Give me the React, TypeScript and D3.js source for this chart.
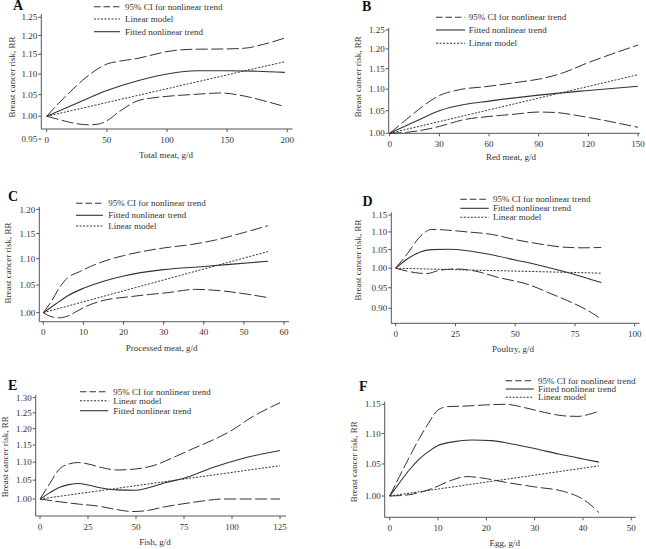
import React from 'react';
import * as d3 from 'd3';

type Pt = [number, number];

// ---- Panel A: Total meat ----
const totalMeatUpper: Pt[] = [[0, 1.0], [10, 1.03], [20, 1.058], [30, 1.085], [40, 1.108], [50, 1.125], [60, 1.132], [75, 1.139], [90, 1.15], [100, 1.157], [120, 1.163], [150, 1.164], [165, 1.166], [180, 1.176], [198, 1.193]];
const totalMeatFit: Pt[] = [[0, 1.0], [25, 1.03], [50, 1.06], [75, 1.083], [100, 1.1], [125, 1.108], [150, 1.108], [175, 1.107], [198, 1.104]];
const totalMeatLower: Pt[] = [[0, 1.0], [10, 0.993], [20, 0.986], [35, 0.981], [42, 0.982], [50, 0.99], [60, 1.01], [75, 1.035], [90, 1.043], [100, 1.046], [125, 1.051], [145, 1.054], [160, 1.049], [180, 1.036], [198, 1.022]];
const totalMeatLinear: Pt[] = [[0, 1.0], [198, 1.131]];

// ---- Panel B: Red meat ----
const redMeatUpper: Pt[] = [[0, 1.0], [10, 1.03], [20, 1.06], [30, 1.085], [40, 1.097], [60, 1.107], [80, 1.118], [90, 1.124], [105, 1.14], [120, 1.165], [135, 1.188], [150, 1.21]];
const redMeatFit: Pt[] = [[0, 1.0], [15, 1.025], [30, 1.05], [45, 1.064], [60, 1.072], [90, 1.086], [120, 1.097], [150, 1.107]];
const redMeatLower: Pt[] = [[0, 1.0], [10, 1.002], [20, 1.007], [30, 1.015], [45, 1.03], [60, 1.037], [75, 1.042], [90, 1.047], [100, 1.046], [115, 1.038], [130, 1.028], [150, 1.013]];
const redMeatLinear: Pt[] = [[0, 1.0], [150, 1.135]];

// ---- Panel C: Processed meat ----
const processedUpper: Pt[] = [[0, 1.0], [2, 1.02], [4, 1.045], [6, 1.063], [9, 1.075], [14, 1.092], [20, 1.106], [30, 1.121], [37, 1.128], [43, 1.137], [50, 1.152], [56, 1.166]];
const processedFit: Pt[] = [[0, 1.0], [3, 1.015], [6, 1.03], [10, 1.044], [15, 1.057], [20, 1.067], [30, 1.079], [40, 1.085], [48, 1.09], [56, 1.095]];
const processedLower: Pt[] = [[0, 1.0], [2, 0.993], [4, 0.991], [6, 0.994], [8, 1.001], [10, 1.009], [14, 1.02], [22, 1.029], [31, 1.036], [38, 1.042], [45, 1.039], [51, 1.033], [56, 1.027]];
const processedLinear: Pt[] = [[0, 1.0], [56, 1.114]];

// ---- Panel D: Poultry ----
const poultryUpper: Pt[] = [[0, 1.0], [5, 1.04], [10, 1.085], [15, 1.107], [20, 1.106], [30, 1.1], [40, 1.093], [50, 1.078], [60, 1.066], [70, 1.057], [78, 1.055], [86, 1.056]];
const poultryFit: Pt[] = [[0, 1.0], [5, 1.025], [10, 1.043], [15, 1.05], [22, 1.051], [30, 1.047], [40, 1.036], [50, 1.022], [60, 1.008], [70, 0.992], [78, 0.978], [86, 0.963]];
const poultryLower: Pt[] = [[0, 1.0], [5, 0.992], [10, 0.987], [13, 0.986], [18, 0.994], [25, 0.998], [32, 0.994], [43, 0.976], [56, 0.957], [65, 0.935], [72, 0.918], [80, 0.896], [86, 0.875]];
const poultryLinear: Pt[] = [[0, 1.0], [86, 0.987]];

// ---- Panel E: Fish ----
const fishUpper: Pt[] = [[0, 1.0], [5, 1.04], [10, 1.08], [15, 1.095], [20, 1.099], [25, 1.095], [32, 1.085], [40, 1.078], [50, 1.081], [60, 1.092], [70, 1.115], [80, 1.14], [90, 1.165], [100, 1.195], [110, 1.235], [125, 1.283]];
const fishFit: Pt[] = [[0, 1.0], [5, 1.016], [10, 1.03], [15, 1.038], [20, 1.041], [25, 1.037], [32, 1.029], [40, 1.024], [50, 1.023], [57, 1.03], [65, 1.043], [75, 1.055], [90, 1.085], [105, 1.11], [125, 1.134]];
const fishLower: Pt[] = [[0, 1.0], [10, 0.993], [20, 0.987], [30, 0.982], [40, 0.973], [48, 0.968], [55, 0.97], [65, 0.98], [75, 0.988], [85, 0.995], [95, 1.0], [125, 1.0]];
const fishLinear: Pt[] = [[0, 1.0], [125, 1.09]];

// ---- Panel F: Egg ----
const eggUpper: Pt[] = [[0, 1.0], [2, 1.03], [4, 1.06], [6, 1.09], [8, 1.117], [10, 1.14], [12, 1.146], [16, 1.147], [20, 1.149], [24, 1.15], [28, 1.144], [32, 1.136], [36, 1.13], [39, 1.129], [41, 1.132], [43.3, 1.138]];
const eggFit: Pt[] = [[0, 1.0], [2, 1.02], [4, 1.04], [6, 1.057], [8, 1.07], [10, 1.08], [13, 1.086], [17, 1.089], [21, 1.088], [25, 1.083], [30, 1.075], [35, 1.066], [40, 1.058], [43.3, 1.053]];
const eggLower: Pt[] = [[0, 1.0], [3, 1.001], [6, 1.005], [9, 1.012], [12, 1.022], [16, 1.03], [19, 1.028], [24, 1.021], [30, 1.014], [36, 1.007], [39, 0.999], [41, 0.99], [43.3, 0.975]];
const eggLinear: Pt[] = [[0, 1.0], [43.3, 1.047]];

// ---- tick labels ----
const ticksA_x = [0, 50, 100, 150, 200];
const ticksA_y = [0.95, 1.0, 1.05, 1.1, 1.15, 1.2, 1.25];
const ticksB_x = [0, 30, 60, 90, 120, 150];
const ticksB_y = [1.0, 1.05, 1.1, 1.15, 1.2, 1.25];
const ticksC_x = [0, 10, 20, 30, 40, 50, 60];
const ticksC_y = [1.0, 1.05, 1.1, 1.15, 1.2];
const ticksD_x = [0, 25, 50, 75, 100];
const ticksD_y = [0.9, 0.95, 1.0, 1.05, 1.1, 1.15];
const ticksE_x = [0, 25, 50, 75, 100, 125];
const ticksE_y = [1.0, 1.05, 1.1, 1.15, 1.2, 1.25, 1.3];
const ticksF_x = [0, 10, 20, 30, 40, 50];
const ticksF_y = [1.0, 1.05, 1.1, 1.15];

const LABELS: Record<string, string> = {
  ci: '95% CI for nonlinear trend',
  fit: 'Fitted nonlinear trend',
  lin: 'Linear model',
};

const FONT = '"Liberation Serif", "Times New Roman", Times, serif';
const TEXT = '#333';
const LINE = '#333';
const AXIS = '#555';

type Key = 'ci' | 'fit' | 'lin';

interface Panel {
  letter: string; letterX: number; letterY: number;
  xDomain: [number, number]; xRange: [number, number];
  axisLeft: number; axisRight: number; axisBottom: number; axisTop: number;
  yAnchors: [number, number]; yPix: [number, number];
  xTicks: number[]; yTicks: number[];
  xTitle: string; titleX: number; titleY: number;
  yLabelX: number; yLabelY: number;
  upper: Pt[]; lower: Pt[]; fit: Pt[]; linear: Pt[];
  order: Key[]; legX1: number; legX2: number; legTextX: number; legYs: number[];
}

const panels: Panel[] = [
  {
    letter: 'A', letterX: 13, letterY: 10,
    xDomain: [0, 200], xRange: [46.7, 287.3],
    axisLeft: 41.3, axisRight: 292.7, axisBottom: 129, axisTop: 14,
    yAnchors: [1.0, 1.25], yPix: [116.3, 17.3],
    xTicks: ticksA_x, yTicks: ticksA_y,
    xTitle: 'Total meat, g/d', titleX: 166, titleY: 155,
    yLabelX: 12, yLabelY: 77,
    upper: totalMeatUpper, lower: totalMeatLower, fit: totalMeatFit, linear: totalMeatLinear,
    order: ['ci', 'lin', 'fit'], legX1: 94, legX2: 120, legTextX: 125, legYs: [6.7, 19, 31.7],
  },
  {
    letter: 'B', letterX: 362, letterY: 11,
    xDomain: [0, 150], xRange: [389.7, 638],
    axisLeft: 388.7, axisRight: 639.7, axisBottom: 133.3, axisTop: 28,
    yAnchors: [1.0, 1.25], yPix: [133.3, 30],
    xTicks: ticksB_x, yTicks: ticksB_y,
    xTitle: 'Red meat, g/d', titleX: 511, titleY: 156.7,
    yLabelX: 358, yLabelY: 76.7,
    upper: redMeatUpper, lower: redMeatLower, fit: redMeatFit, linear: redMeatLinear,
    order: ['ci', 'fit', 'lin'], legX1: 436, legX2: 465, legTextX: 468.7, legYs: [17.3, 30, 43.3],
  },
  {
    letter: 'C', letterX: 8, letterY: 201,
    xDomain: [0, 60], xRange: [43.3, 284],
    axisLeft: 39.3, axisRight: 289, axisBottom: 321.7, axisTop: 206.7,
    yAnchors: [1.0, 1.2], yPix: [312.7, 209.4],
    xTicks: ticksC_x, yTicks: ticksC_y,
    xTitle: 'Processed meat, g/d', titleX: 161.7, titleY: 348.3,
    yLabelX: 8.3, yLabelY: 263,
    upper: processedUpper, lower: processedLower, fit: processedFit, linear: processedLinear,
    order: ['ci', 'fit', 'lin'], legX1: 76, legX2: 103, legTextX: 108.3, legYs: [203.3, 215.3, 226],
  },
  {
    letter: 'D', letterX: 362.5, letterY: 205.7,
    xDomain: [0, 100], xRange: [395.7, 634.7],
    axisLeft: 391.3, axisRight: 639.7, axisBottom: 323.3, axisTop: 212.3,
    yAnchors: [0.9, 1.15], yPix: [308.3, 215],
    xTicks: ticksD_x, yTicks: ticksD_y,
    xTitle: 'Poultry, g/d', titleX: 513, titleY: 349,
    yLabelX: 358, yLabelY: 260,
    upper: poultryUpper, lower: poultryLower, fit: poultryFit, linear: poultryLinear,
    order: ['ci', 'fit', 'lin'], legX1: 460.3, legX2: 488.7, legTextX: 493, legYs: [199.3, 208.3, 217.3],
  },
  {
    letter: 'E', letterX: 8, letterY: 390,
    xDomain: [0, 125], xRange: [40, 280],
    axisLeft: 35.7, axisRight: 286, axisBottom: 516, axisTop: 395,
    yAnchors: [1.0, 1.3], yPix: [499, 397.7],
    xTicks: ticksE_x, yTicks: ticksE_y,
    xTitle: 'Fish, g/d', titleX: 155, titleY: 541.7,
    yLabelX: 5, yLabelY: 456.7,
    upper: fishUpper, lower: fishLower, fit: fishFit, linear: fishLinear,
    order: ['ci', 'lin', 'fit'], legX1: 80, legX2: 108.3, legTextX: 113.3, legYs: [391.7, 400.7, 410.7],
  },
  {
    letter: 'F', letterX: 359, letterY: 390.7,
    xDomain: [0, 50], xRange: [389.7, 631.3],
    axisLeft: 384.7, axisRight: 635.7, axisBottom: 517.3, axisTop: 401.7,
    yAnchors: [1.0, 1.15], yPix: [496, 404.3],
    xTicks: ticksF_x, yTicks: ticksF_y,
    xTitle: 'Egg, g/d', titleX: 504.7, titleY: 542.7,
    yLabelX: 353.7, yLabelY: 461.7,
    upper: eggUpper, lower: eggLower, fit: eggFit, linear: eggLinear,
    order: ['ci', 'fit', 'lin'], legX1: 505.7, legX2: 533.7, legTextX: 538, legYs: [380.7, 389, 397.3],
  },
];

const PLOT_DASH: Record<Key, string | undefined> = { ci: '12,3.5', fit: undefined, lin: '2,1.5' };
const LEGEND_DASH: Record<Key, string | undefined> = { ci: '6.5,3', fit: undefined, lin: '2,1.5' };

function PanelView({ p }: { p: Panel }) {
  const x = d3.scaleLinear().domain(p.xDomain).range(p.xRange);
  const y = d3.scaleLog().domain(p.yAnchors).range(p.yPix);
  const line = d3.line<Pt>().x(d => x(d[0])).y(d => y(d[1])).curve(d3.curveMonotoneX);
  const straight = d3.line<Pt>().x(d => x(d[0])).y(d => y(d[1]));
  const fmt = d3.format('.2f');
  return (
    <g>
      <text x={p.letterX} y={p.letterY} fontFamily={FONT} fontWeight="bold" fontSize={14} fill="#111">{p.letter}</text>
      <line x1={p.axisLeft} x2={p.axisLeft} y1={p.axisTop} y2={p.axisBottom} stroke={AXIS} strokeWidth={1} />
      <line x1={p.axisLeft} x2={p.axisRight} y1={p.axisBottom} y2={p.axisBottom} stroke={AXIS} strokeWidth={1} />
      {p.yTicks.map(t => (
        <g key={'y' + t}>
          <line x1={p.axisLeft - 3} x2={p.axisLeft} y1={y(t)} y2={y(t)} stroke={AXIS} strokeWidth={1} />
          <text x={p.axisLeft - 4} y={y(t)} dy="0.35em" textAnchor="end" fontFamily={FONT} fontSize={9} fill={TEXT}>{fmt(t)}</text>
        </g>
      ))}
      {p.xTicks.map(t => (
        <g key={'x' + t}>
          <line x1={x(t)} x2={x(t)} y1={p.axisBottom} y2={p.axisBottom + 3} stroke={AXIS} strokeWidth={1} />
          <text x={x(t)} y={p.axisBottom + 10.5} dy="0.35em" textAnchor="middle" fontFamily={FONT} fontSize={9} fill={TEXT}>{t}</text>
        </g>
      ))}
      <text x={p.titleX} y={p.titleY} dy="0.35em" textAnchor="middle" fontFamily={FONT} fontSize={9} fill={TEXT}>{p.xTitle}</text>
      <text transform={`translate(${p.yLabelX},${p.yLabelY}) rotate(-90)`} dy="0.35em" textAnchor="middle" fontFamily={FONT} fontSize={9} fill={TEXT}>Breast cancer risk, RR</text>
      <path d={line(p.upper) || ''} fill="none" stroke={LINE} strokeWidth={1} strokeDasharray={PLOT_DASH.ci} />
      <path d={line(p.lower) || ''} fill="none" stroke={LINE} strokeWidth={1} strokeDasharray={PLOT_DASH.ci} />
      <path d={straight(p.linear) || ''} fill="none" stroke={LINE} strokeWidth={1} strokeDasharray={PLOT_DASH.lin} />
      <path d={line(p.fit) || ''} fill="none" stroke={LINE} strokeWidth={1.1} />
      {p.order.map((k, i) => (
        <g key={k}>
          <line x1={p.legX1} x2={p.legX2} y1={p.legYs[i]} y2={p.legYs[i]} stroke={LINE} strokeWidth={1.1} strokeDasharray={LEGEND_DASH[k]} />
          <text x={p.legTextX} y={p.legYs[i]} dy="0.35em" fontFamily={FONT} fontSize={9} fill={TEXT}>{LABELS[k]}</text>
        </g>
      ))}
    </g>
  );
}

export default function App() {
  return (
    <svg width={646} height={549} style={{ position: 'absolute', left: 0, top: 0, background: '#fff' }}>
      <rect width={646} height={549} fill="#fff" />
      {panels.map(p => <PanelView key={p.letter} p={p} />)}
    </svg>
  );
}
